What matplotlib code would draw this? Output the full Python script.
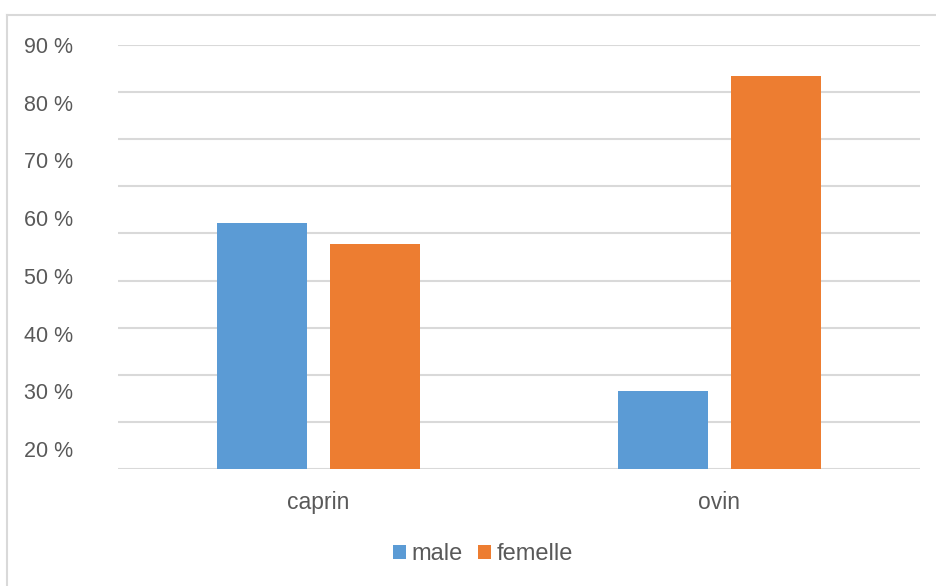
import numpy as np
import matplotlib
matplotlib.use("Agg")
import matplotlib.pyplot as plt
from matplotlib.lines import Line2D

# Data
categories = ["caprin", "ovin"]
male = [52.2, 16.6]
femelle = [47.8, 83.4]
series_names = ["male", "femelle"]
tick_values = [20, 30, 40, 50, 60, 70, 80, 90]
tick_labels = ["20 %", "30 %", "40 %", "50 %", "60 %", "70 %", "80 %", "90 %"]

BLUE = "#5B9BD5"
ORANGE = "#ED7D31"
TEXT = "#595959"
GRID = "#D9D9D9"

plt.rcParams["font.family"] = ["Liberation Sans", "DejaVu Sans"]
FS_Y = 15.5
FS_X = 16.5
FS_LEG = 17

fig = plt.figure(figsize=(9.37, 5.86), dpi=100)
ax = fig.add_axes([118 / 937, 1 - 469 / 586, (920 - 118) / 937, (469 - 45) / 586])

x = np.arange(len(categories))
width = 0.2245
offset = 0.142
ax.bar(x - offset, male, width, color=BLUE, label=series_names[0], zorder=3)
ax.bar(x + offset, femelle, width, color=ORANGE, label=series_names[1], zorder=3)

ax.set_xlim(-0.5, len(categories) - 0.5)
ax.set_ylim(0, 90)
ax.set_yticks(np.arange(0, 91, 10))
ax.yaxis.grid(True, color=GRID, linewidth=1.5, zorder=0)
ax.set_xticks(x)
ax.set_xticklabels(categories)
for s in ax.spines.values():
    s.set_visible(False)

# Percentage labels on the left
lab = ax.twinx()
lab.set_ylim(16.54, 89.97)
lab.yaxis.tick_left()
lab.set_yticks(tick_values)
lab.set_yticklabels(tick_labels)
lab.tick_params(axis="y", left=False, right=False, pad=29, labelsize=FS_Y, labelcolor=TEXT)
for s in lab.spines.values():
    s.set_visible(False)

ax.tick_params(axis="y", left=False, right=False, labelleft=False, labelright=False)
ax.tick_params(axis="x", bottom=False, pad=12, labelsize=FS_X, labelcolor=TEXT)

# Legend
leg = ax.legend(loc="center", bbox_to_anchor=(483 / 937, 1 - 554 / 586),
                bbox_transform=fig.transFigure, ncol=2, frameon=False,
                fontsize=FS_LEG, handlelength=0.55, handleheight=0.55,
                handletextpad=0.25, columnspacing=0.63)
for t in leg.get_texts():
    t.set_color(TEXT)

# Chart frame
fig.add_artist(Line2D([7 / 937, 1], [1 - 15 / 586, 1 - 15 / 586],
                      transform=fig.transFigure, color=GRID, linewidth=1.5))
fig.add_artist(Line2D([7 / 937, 7 / 937], [0, 1 - 15 / 586],
                      transform=fig.transFigure, color=GRID, linewidth=1.5))

fig.savefig("out.png", dpi=100)
